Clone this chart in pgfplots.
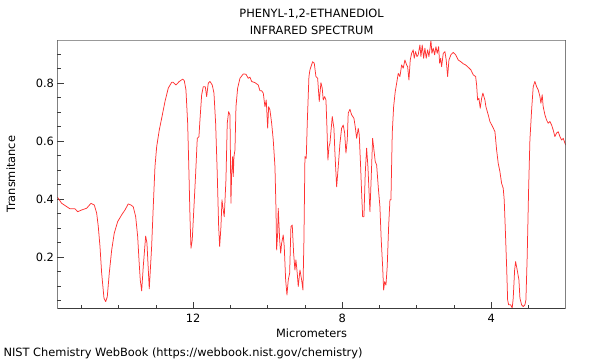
\documentclass[border=0pt]{standalone}
\usepackage{fontspec}
\setmainfont{DejaVu Sans}
\usepackage{pgfplots}
\pgfplotsset{compat=1.18}
\definecolor{spec}{RGB}{255,50,50}
\definecolor{frame}{RGB}{60,60,60}
\begin{document}
\begin{tikzpicture}[x=1pt,y=1pt]
\path[use as bounding box] (0,0) rectangle (600,360);
\begin{axis}[
  at={(57.5pt,52pt)}, anchor=south west,
  scale only axis, width=508.2pt, height=268pt,
  x dir=reverse,
  xmin=2.0, xmax=15.645, ymin=0.025, ymax=0.949,
  xtick={4,8,12}, minor xtick={3,5,6,7,9,10,11,13,14,15},
  ytick={0.2,0.4,0.6,0.8},
  minor ytick={0.05,0.1,0.15,0.25,0.3,0.35,0.45,0.5,0.55,0.65,0.7,0.75,0.85,0.9},
  xticklabels={4,8,12},
  yticklabels={0.2,0.4,0.6,0.8},
  tick align=inside, xtick pos=bottom, ytick pos=left,
  major tick length=6.5pt, minor tick length=3.5pt,
  tick style={frame, line width=0.8pt},
  minor tick style={frame, line width=0.7pt},
  ticklabel style={font=\fontsize{11.4}{13}\selectfont},
  xticklabel style={yshift=-2.5pt},
  /pgf/number format/assume math mode=true,
  axis line style={draw=none},
  clip=true,
]
\addplot[spec, line width=0.75pt, line join=round] table {
x y
15.645 0.407
15.533 0.386
15.310 0.367
15.176 0.367
15.103 0.357
14.996 0.363
14.861 0.369
14.746 0.386
14.657 0.380
14.593 0.352
14.550 0.306
14.504 0.237
14.459 0.145
14.397 0.059
14.351 0.047
14.308 0.064
14.255 0.145
14.190 0.225
14.121 0.283
14.029 0.323
13.922 0.346
13.833 0.363
13.745 0.384
13.672 0.380
13.611 0.374
13.546 0.340
13.492 0.271
13.457 0.191
13.423 0.122
13.385 0.084
13.342 0.168
13.278 0.273
13.243 0.249
13.181 0.091
13.117 0.237
13.074 0.374
13.028 0.512
12.982 0.581
12.912 0.639
12.848 0.679
12.759 0.737
12.671 0.783
12.580 0.803
12.537 0.803
12.464 0.794
12.376 0.806
12.284 0.814
12.241 0.809
12.196 0.777
12.150 0.662
12.115 0.490
12.088 0.340
12.061 0.231
12.027 0.260
11.981 0.374
11.935 0.490
11.892 0.610
11.847 0.616
11.820 0.673
11.774 0.760
11.731 0.788
11.677 0.788
11.640 0.754
11.597 0.800
11.551 0.806
11.490 0.794
11.444 0.766
11.399 0.662
11.356 0.490
11.318 0.306
11.291 0.237
11.256 0.306
11.229 0.398
11.195 0.363
11.168 0.340
11.122 0.467
11.087 0.662
11.050 0.702
11.015 0.691
11.006 0.604
10.988 0.386
10.969 0.490
10.942 0.547
10.926 0.478
10.907 0.547
10.880 0.570
10.853 0.719
10.808 0.783
10.746 0.817
10.657 0.832
10.585 0.831
10.523 0.817
10.478 0.821
10.432 0.806
10.343 0.802
10.255 0.794
10.209 0.774
10.163 0.774
10.120 0.766
10.075 0.719
10.040 0.742
10.002 0.645
9.976 0.719
9.941 0.708
9.895 0.662
9.852 0.604
9.806 0.512
9.780 0.374
9.761 0.225
9.734 0.283
9.718 0.369
9.680 0.260
9.653 0.214
9.627 0.248
9.584 0.277
9.557 0.237
9.519 0.122
9.484 0.070
9.449 0.122
9.412 0.145
9.377 0.306
9.342 0.311
9.305 0.214
9.270 0.156
9.243 0.191
9.208 0.145
9.181 0.099
9.135 0.156
9.090 0.122
9.055 0.087
9.028 0.260
9.001 0.547
8.966 0.541
8.939 0.662
8.894 0.823
8.867 0.846
8.795 0.874
8.751 0.869
8.706 0.823
8.660 0.817
8.617 0.737
8.572 0.802
8.537 0.783
8.510 0.742
8.472 0.754
8.437 0.742
8.411 0.650
8.384 0.535
8.357 0.581
8.330 0.593
8.295 0.645
8.268 0.685
8.223 0.645
8.196 0.559
8.150 0.443
8.107 0.512
8.061 0.593
8.016 0.645
7.973 0.656
7.935 0.628
7.900 0.559
7.865 0.604
7.839 0.697
7.793 0.710
7.748 0.691
7.686 0.679
7.651 0.650
7.613 0.610
7.570 0.645
7.543 0.622
7.506 0.512
7.479 0.421
7.452 0.340
7.417 0.340
7.382 0.490
7.345 0.576
7.310 0.512
7.256 0.357
7.221 0.478
7.184 0.610
7.149 0.570
7.114 0.530
7.076 0.518
7.033 0.443
6.988 0.374
6.953 0.260
6.915 0.168
6.888 0.087
6.861 0.116
6.826 0.104
6.792 0.168
6.754 0.306
6.719 0.398
6.692 0.398
6.657 0.628
6.620 0.719
6.577 0.771
6.539 0.800
6.496 0.834
6.451 0.823
6.405 0.863
6.362 0.852
6.317 0.880
6.271 0.863
6.244 0.857
6.209 0.811
6.174 0.880
6.137 0.903
6.094 0.915
6.067 0.886
6.030 0.909
5.994 0.892
5.960 0.898
5.914 0.932
5.887 0.892
5.852 0.932
5.814 0.886
5.780 0.921
5.745 0.886
5.707 0.915
5.672 0.892
5.637 0.926
5.619 0.949
5.592 0.903
5.557 0.921
5.519 0.898
5.484 0.926
5.449 0.903
5.412 0.926
5.385 0.869
5.358 0.886
5.331 0.857
5.288 0.903
5.243 0.909
5.208 0.880
5.170 0.823
5.135 0.880
5.082 0.898
5.020 0.906
4.955 0.898
4.885 0.880
4.813 0.874
4.751 0.867
4.687 0.863
4.617 0.855
4.545 0.846
4.483 0.829
4.418 0.823
4.392 0.794
4.365 0.742
4.330 0.748
4.295 0.714
4.257 0.748
4.223 0.766
4.169 0.742
4.142 0.719
4.080 0.691
4.035 0.668
3.962 0.650
3.900 0.633
3.855 0.570
3.812 0.524
3.766 0.495
3.721 0.455
3.678 0.438
3.651 0.398
3.624 0.306
3.586 0.168
3.559 0.053
3.532 0.036
3.479 0.036
3.436 0.025
3.409 0.059
3.371 0.156
3.345 0.185
3.302 0.156
3.256 0.122
3.229 0.059
3.184 0.036
3.141 0.030
3.095 0.036
3.068 0.053
3.034 0.202
2.996 0.432
2.961 0.604
2.915 0.708
2.872 0.788
2.827 0.806
2.781 0.788
2.738 0.777
2.692 0.754
2.666 0.731
2.631 0.760
2.604 0.719
2.558 0.691
2.513 0.673
2.470 0.662
2.424 0.668
2.379 0.656
2.336 0.639
2.290 0.616
2.245 0.628
2.201 0.633
2.155 0.616
2.110 0.604
2.067 0.610
2.002 0.587
};
\draw[gray!80, line width=0.9pt] (rel axis cs:0,1) -- (rel axis cs:1,1);
\draw[frame, line width=0.9pt] (rel axis cs:0,1) -- (rel axis cs:0,0) -- (rel axis cs:1,0) -- (rel axis cs:1,1);
\end{axis}
\node[anchor=base, font=\fontsize{11.4}{13}\selectfont] at (311.6,342.7) {PHENYL-1,2-ETHANEDIOL};
\node[anchor=base, font=\fontsize{11.4}{13}\selectfont] at (311.6,326) {INFRARED SPECTRUM};
\node[anchor=base, font=\fontsize{11.4}{13}\selectfont] at (311.6,22.7) {Micrometers};
\node[anchor=base, rotate=90, font=\fontsize{11.4}{13}\selectfont] at (15,186) {Transmitance};
\node[anchor=base west, inner sep=0pt, font=\fontsize{11.4}{13}\selectfont] at (3.3,3.3) {NIST Chemistry WebBook (https://webbook.nist.gov/chemistry)};
\end{tikzpicture}
\end{document}
